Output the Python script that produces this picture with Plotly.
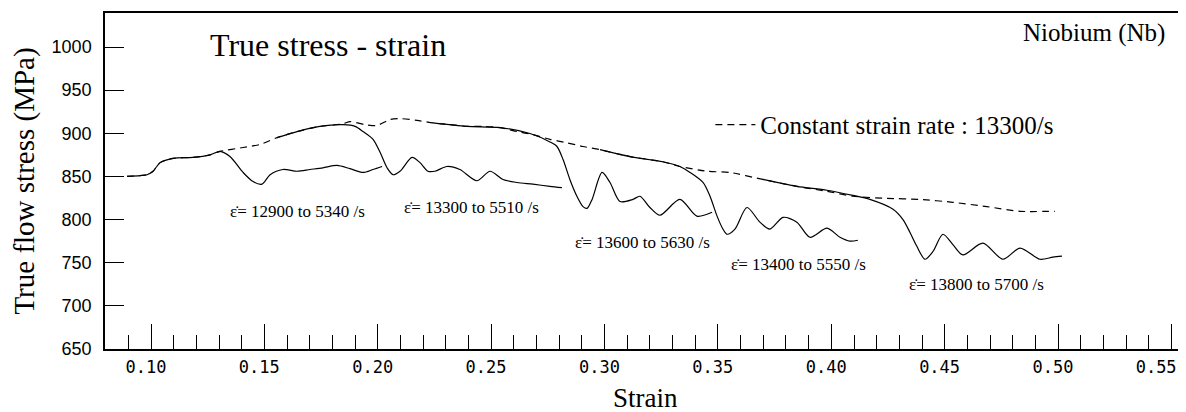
import plotly.graph_objects as go

# ---- data ----
strain_const = [0.0894, 0.0952, 0.0982, 0.1009, 0.1040, 0.1097, 0.1185, 0.1260, 0.1304, 0.1406,
                0.1481, 0.1556, 0.1644, 0.1745, 0.1847, 0.1877, 0.1944, 0.1996, 0.2054, 0.2098,
                0.2173, 0.2243, 0.2318, 0.2393, 0.2464, 0.2539, 0.2614, 0.2684, 0.2759, 0.2834,
                0.2905, 0.2980, 0.3112, 0.3257, 0.3332, 0.3451, 0.3553, 0.3698, 0.3848, 0.3981,
                0.4095, 0.4245, 0.4391, 0.4536, 0.4686, 0.4832, 0.4986]
stress_const = [850, 851, 852, 856, 866, 871, 872, 875, 879, 883.5,
                887, 895, 902, 908, 911, 913.5, 910, 909, 916, 917,
                915, 912, 910, 908, 908, 906.6, 902, 898.5, 893, 889,
                884.7, 881, 873, 867, 861.5, 856, 854.6, 846.5, 838.5, 832.7,
                827, 824.6, 823.4, 820, 815, 809.6, 809.6]

strain_1 = [0.0894, 0.0952, 0.0982, 0.1009, 0.1040, 0.1097, 0.1185, 0.1260, 0.1304, 0.1348,
            0.1406, 0.1450, 0.1489, 0.1525, 0.1582, 0.1644, 0.1701, 0.1758, 0.1820, 0.1877,
            0.1935, 0.1979, 0.2019]
stress_1 = [850, 851, 852, 856, 866, 871, 872, 875, 879, 873,
            854.6, 844, 841, 852, 858, 856, 858, 860, 862.7, 859,
            854.6, 858, 861.5]

strain_2 = [0.1556, 0.1644, 0.1745, 0.1847, 0.1900, 0.1935, 0.1979, 0.2010, 0.2041, 0.2067,
            0.2098, 0.2151, 0.2186, 0.2221, 0.2252, 0.2305, 0.2362, 0.2437, 0.2495, 0.2552,
            0.2614, 0.2684, 0.2759, 0.2812]
stress_2 = [895, 902, 908, 910, 908, 902, 893, 878, 860, 852,
            856, 872, 866, 856, 856, 861.5, 858, 845, 856, 846.5,
            843, 841, 838.5, 837]

strain_3 = [0.2243, 0.2393, 0.2539, 0.2671, 0.2759, 0.2790, 0.2817, 0.2847, 0.2878, 0.2905,
            0.2923, 0.2945, 0.2989, 0.3024, 0.3068, 0.3125, 0.3156, 0.3200, 0.3244, 0.3332,
            0.3407, 0.3474]
stress_3 = [912, 908, 906.6, 899.7, 890, 884.7, 869.6, 846.5, 827, 815,
            813, 823.4, 854.6, 843, 821, 823.4, 827, 814, 805, 823.4,
            804, 808.4]

strain_4 = [0.2980, 0.3112, 0.3257, 0.3332, 0.3377, 0.3434, 0.3465, 0.3496, 0.3522, 0.3540,
            0.3575, 0.3628, 0.3685, 0.3729, 0.3787, 0.3848, 0.3906, 0.3981, 0.4038, 0.4082,
            0.4117]
stress_4 = [881, 873, 867, 861.5, 854.6, 843, 827, 804, 789, 783,
            789, 814, 797, 789, 802.6, 797, 779.5, 790, 779.5, 775,
            776]

strain_5 = [0.3698, 0.3848, 0.3981, 0.4095, 0.4170, 0.4272, 0.4316, 0.4347, 0.4377, 0.4413,
            0.4448, 0.4492, 0.4536, 0.4580, 0.4668, 0.4757, 0.4832, 0.4920, 0.4977, 0.5017]
stress_5 = [846.5, 838.5, 834, 828, 823.4, 812, 800, 785, 769, 754,
            763, 783, 771, 759, 772.6, 754, 767, 754, 756.4, 757.6]

rate_labels = ["\u03b5\u0307= 12900 to 5340 /s", "\u03b5\u0307= 13300 to 5510 /s",
               "\u03b5\u0307= 13600 to 5630 /s", "\u03b5\u0307= 13400 to 5550 /s",
               "\u03b5\u0307= 13800 to 5700 /s"]
rate_label_x = [0.1644, 0.2415, 0.3169, 0.3857, 0.4642]
rate_label_y = [809.6, 814.2, 773.8, 748.4, 725.3]

x_tickvals = [0.10, 0.15, 0.20, 0.25, 0.30, 0.35, 0.40, 0.45, 0.50, 0.55]
x_ticktext = ["0.10", "0.15", "0.20", "0.25", "0.30", "0.35", "0.40", "0.45", "0.50", "0.55"]
y_tickvals = [650, 700, 750, 800, 850, 900, 950, 1000]

SERIF = "Liberation Serif"
SANS = "Liberation Sans"
MONO = "DejaVu Sans Mono"

fig = go.Figure()

fig.add_trace(go.Scatter(
    x=strain_const, y=stress_const, mode="lines",
    line=dict(color="black", width=1.2, dash="7px,5px", shape="spline", smoothing=0.6),
    name="Constant strain rate : 13300/s", showlegend=True))

for xs, ys in [(strain_1, stress_1), (strain_2, stress_2), (strain_3, stress_3),
               (strain_4, stress_4), (strain_5, stress_5)]:
    fig.add_trace(go.Scatter(
        x=xs, y=ys, mode="lines",
        line=dict(color="black", width=1.2, shape="spline", smoothing=0.8),
        showlegend=False, hoverinfo="skip"))

for t, lx, ly in zip(rate_labels, rate_label_x, rate_label_y):
    fig.add_annotation(x=lx, y=ly, xref="x", yref="y", text=t, showarrow=False,
                       font=dict(family=SERIF, size=17, color="black"),
                       xanchor="center", yanchor="middle")

fig.add_annotation(x=0.1251, y=1002, xref="x", yref="y", text="True stress - strain",
                   showarrow=False, font=dict(family=SERIF, size=32, color="black"),
                   xanchor="left", yanchor="middle")
fig.add_annotation(x=0.5480, y=1016, xref="x", yref="y", text="Niobium (Nb)",
                   showarrow=False, font=dict(family=SERIF, size=25, color="black"),
                   xanchor="right", yanchor="middle")
# x-axis title, placed a little lower than the margin-bound axis title allows
fig.add_annotation(x=0.5, y=-0.147, xref="paper", yref="paper", text="Strain",
                   showarrow=False, font=dict(family=SERIF, size=27, color="black"),
                   xanchor="center", yanchor="middle")

# trailing no-break spaces nudge the monospace labels left of their ticks, as in the reference
x_ticktext_shown = [t + "\u00a0" for t in x_ticktext]
x_ticktext_shown[-1] = x_ticktext[-1] + "\u00a0\u00a0\u00a0"

# the page body has an 8px margin, so the figure is sized to end at the window edge
fig.update_layout(
    width=1178, height=404,
    margin=dict(l=97, r=0, t=5, b=63),
    paper_bgcolor="white", plot_bgcolor="white",
    showlegend=True,
    legend=dict(x=0.560, y=0.667, xanchor="left", yanchor="middle",
                bgcolor="rgba(0,0,0,0)", borderwidth=0,
                font=dict(family=SERIF, size=25, color="black"),
                itemwidth=40),
    xaxis=dict(
        range=[0.0797, 0.5564], showgrid=False, zeroline=False, automargin=False,
        showline=True, linecolor="black", linewidth=1.5, mirror=True,
        ticks="inside", ticklen=25, tickwidth=1.3, tickcolor="black",
        tickvals=x_tickvals, ticktext=x_ticktext_shown, ticklabeloverflow="allow",
        ticklabelstandoff=2,
        tickfont=dict(family=MONO, size=17, color="black"),
        minor=dict(ticks="inside", ticklen=14, tickwidth=1.3, tickcolor="black",
                   dtick=0.01, tick0=0.0),
    ),
    yaxis=dict(
        range=[650, 1039.4], showgrid=False, zeroline=False, automargin=False,
        showline=True, linecolor="black", linewidth=1.5, mirror=False,
        ticks="inside", ticklen=19, tickwidth=1.3, tickcolor="black",
        tickvals=y_tickvals,
        tickfont=dict(family=SANS, size=18, color="black"),
        ticklabelstandoff=8,
        title=dict(text="True flow stress (MPa)",
                   font=dict(family=SERIF, size=29, color="black"), standoff=10),
    ),
)

fig.write_html("out.html")
